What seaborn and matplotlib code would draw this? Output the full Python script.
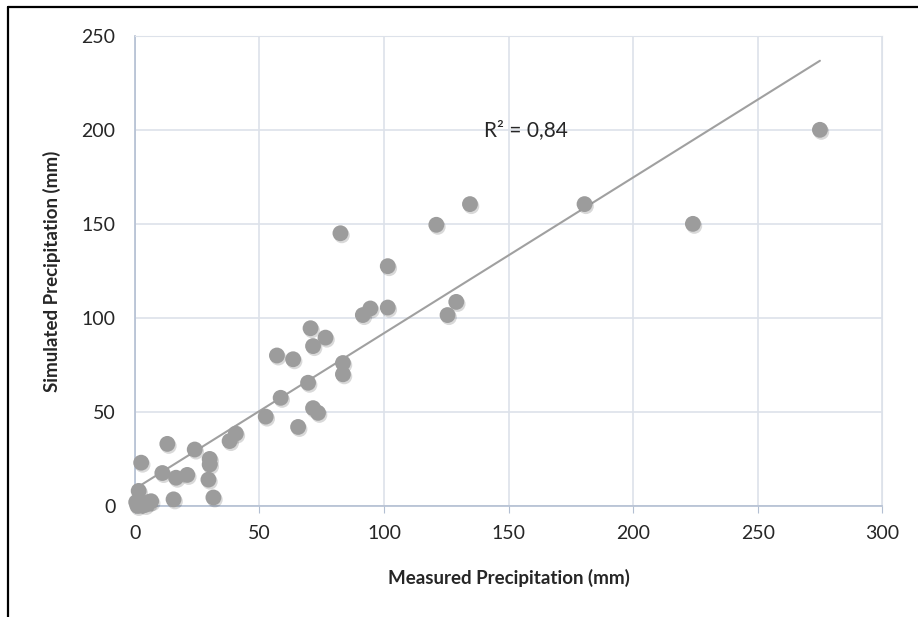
import matplotlib
matplotlib.use("Agg")
import matplotlib.pyplot as plt
import matplotlib.patheffects as pe
from matplotlib.lines import Line2D
import numpy as np
import pandas as pd
import seaborn as sns

# measured vs simulated precipitation (mm)
measured = [275, 224, 180.5, 134.5, 121, 101.5, 101.5, 94.5, 91.5, 129, 125.5,
            82.5, 70.5, 76.5, 71.5, 57, 63.5, 83.5, 83.5, 69.5, 58.5, 52.5,
            71.5, 73.5, 65.5, 40.5, 38, 13, 24, 30, 30, 2.5, 11, 16.5, 21,
            29.5, 1.5, 15.5, 31.5, 1, 2, 4, 5.5, 6.5, 0.5]
simulated = [200, 150, 160.5, 160.5, 149.5, 127.5, 105.5, 105, 101.5, 108.5, 101.5,
             145, 94.5, 89.5, 85, 80, 78, 76, 70, 65.5, 57.5, 47.5,
             52, 49.5, 42, 38.5, 34.5, 33, 30, 25, 22, 23, 17.5, 15, 16.5,
             14, 8, 3.5, 4.5, 0, 1, 0.5, 2, 2.5, 2]
r2_label = "R² = 0,84"

df = pd.DataFrame({"measured": measured, "simulated": simulated})

sns.set_style("white")
plt.rcParams["font.family"] = ["Lato", "DejaVu Sans"]

fig, ax = plt.subplots(figsize=(9.18, 6.17), dpi=100)
fig.subplots_adjust(left=0.147, right=0.961, top=0.942, bottom=0.180)

# trend line (linear fit), drawn from x=0 to the largest measured value
coef = np.polyfit(df["measured"], df["simulated"], 1)
xs = np.array([0, df["measured"].max()])
ax.plot(xs, np.polyval(coef, xs), color="#a0a0a0", lw=1.5, zorder=2)

sns.scatterplot(data=df, x="measured", y="simulated", ax=ax, s=130,
                color="#9c9c9c", edgecolor="none", zorder=3, clip_on=False)
ax.collections[0].set_path_effects([
    pe.SimplePatchShadow(offset=(1, -1.5), shadow_rgbFace="#000000", alpha=0.15),
    pe.Normal()])

ax.text(140, 200, r2_label, fontsize=15, ha="left", va="center")

ax.set_xlim(0, 300)
ax.set_ylim(0, 250)
ax.set_xticks(range(0, 301, 50))
ax.set_yticks(range(0, 251, 50))
ax.grid(True, color="#dde2ea", lw=1.2)
ax.set_axisbelow(True)
for side in ["top", "right"]:
    ax.spines[side].set_color("#dde2ea")
for side in ["left", "bottom"]:
    ax.spines[side].set_color("#b3bfd2")
    ax.spines[side].set_linewidth(1.2)
ax.tick_params(axis="x", length=5, color="#b3bfd2", labelsize=14, pad=9, bottom=True)
ax.tick_params(axis="y", length=0, labelsize=14, pad=14)
ax.set_xlabel("Measured Precipitation (mm)", fontsize=13.5, fontweight="bold", labelpad=19)
ax.set_ylabel("Simulated Precipitation (mm)", fontsize=13.5, fontweight="bold", labelpad=15)

# chart frame (left and top edges visible in the crop)
fig.add_artist(Line2D([8 / 918, 8 / 918], [0, 1 - 7 / 617], color="black", lw=1.6))
fig.add_artist(Line2D([8 / 918, 1], [1 - 7 / 617, 1 - 7 / 617], color="black", lw=1.6))

fig.savefig("out.png", dpi=100)
